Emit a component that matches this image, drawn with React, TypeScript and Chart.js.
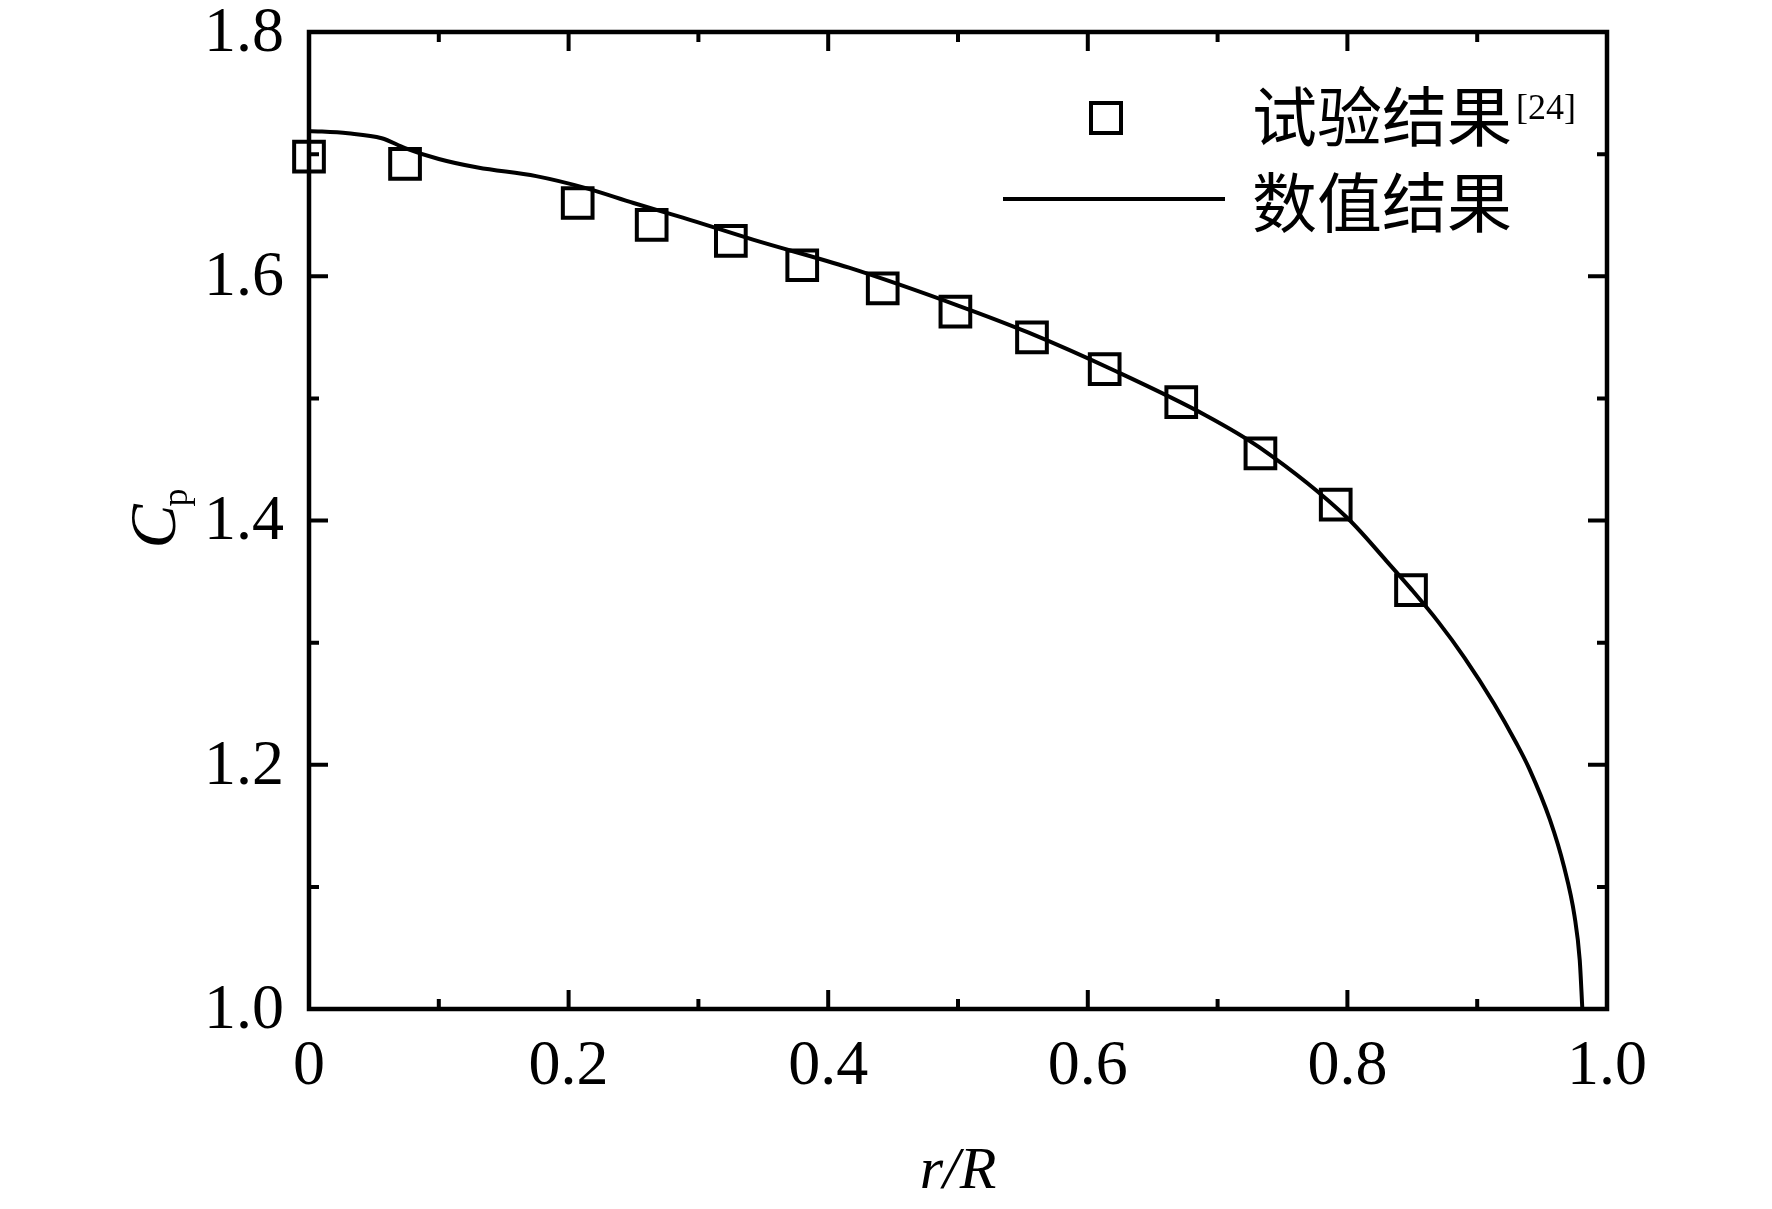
import React, { useEffect, useRef } from 'react';
import { Chart, registerables } from 'chart.js';

Chart.register(...registerables);

// experiment points (squares)
const expR = [0.0, 0.074, 0.207, 0.264, 0.325, 0.38, 0.442, 0.498, 0.557, 0.613, 0.672, 0.733, 0.791, 0.849];
const expCp = [1.698, 1.692, 1.66, 1.642, 1.629, 1.609, 1.59, 1.571, 1.55, 1.524, 1.497, 1.455, 1.413, 1.343];

// numerical curve
const numR = [0, 0.03, 0.056, 0.074, 0.1, 0.13, 0.175, 0.214, 0.25, 0.288, 0.342, 0.416, 0.5, 0.554, 0.62, 0.691, 0.732, 0.8, 0.83, 0.849, 0.87, 0.89, 0.913, 0.93, 0.94, 0.956, 0.967, 0.975, 0.979, 0.981];
const numCp = [1.719, 1.717, 1.713, 1.705, 1.696, 1.689, 1.682, 1.672, 1.66, 1.648, 1.63, 1.607, 1.576, 1.554, 1.523, 1.486, 1.46, 1.402, 1.367, 1.344, 1.317, 1.288, 1.25, 1.218, 1.197, 1.155, 1.116, 1.076, 1.04, 1.0];

const xMajor = [0, 0.2, 0.4, 0.6, 0.8, 1.0];
const xMinor = [0.1, 0.3, 0.5, 0.7, 0.9];
const xLabels = ['0', '0.2', '0.4', '0.6', '0.8', '1.0'];
const yMajor = [1.0, 1.2, 1.4, 1.6, 1.8];
const yMinor = [1.1, 1.3, 1.5, 1.7];
const yLabels = ['1.0', '1.2', '1.4', '1.6', '1.8'];

const expLabel = '试验结果';
const expRef = '[24]';
const numLabel = '数值结果';

const SERIF = '"Liberation Serif", "Times New Roman", serif';
const CJK = '"Noto Sans CJK SC", sans-serif';

const framePlugin = {
  id: 'frame',
  afterDraw(chart: any) {
    const { ctx, chartArea } = chart;
    const { left, right, top, bottom } = chartArea;
    const xs = chart.scales.x;
    const ys = chart.scales.y;
    ctx.save();
    ctx.strokeStyle = '#000';
    ctx.fillStyle = '#000';
    ctx.lineWidth = 4.5;
    ctx.strokeRect(left, top, right - left, bottom - top);

    // inward ticks on all four sides
    ctx.lineWidth = 4;
    ctx.beginPath();
    const tickX = (v: number, len: number) => {
      const px = xs.getPixelForValue(v);
      ctx.moveTo(px, bottom);
      ctx.lineTo(px, bottom - len);
      ctx.moveTo(px, top);
      ctx.lineTo(px, top + len);
    };
    const tickY = (v: number, len: number) => {
      const py = ys.getPixelForValue(v);
      ctx.moveTo(left, py);
      ctx.lineTo(left + len, py);
      ctx.moveTo(right, py);
      ctx.lineTo(right - len, py);
    };
    xMajor.forEach((v) => tickX(v, 19));
    xMinor.forEach((v) => tickX(v, 10));
    yMajor.forEach((v) => tickY(v, 19));
    yMinor.forEach((v) => tickY(v, 10));
    ctx.stroke();

    // tick labels
    ctx.font = `64px ${SERIF}`;
    ctx.textBaseline = 'middle';
    ctx.textAlign = 'center';
    xMajor.forEach((v, i) => {
      ctx.fillText(xLabels[i], xs.getPixelForValue(v), bottom + 58);
    });
    ctx.textAlign = 'right';
    yMajor.forEach((v, i) => {
      ctx.fillText(yLabels[i], left - 25, ys.getPixelForValue(v) + 2);
    });

    // x title
    ctx.font = `italic 60px ${SERIF}`;
    ctx.textAlign = 'center';
    ctx.textBaseline = 'alphabetic';
    ctx.fillText('r/R', (left + right) / 2, bottom + 179);

    // y title, rotated
    ctx.save();
    ctx.translate(left - 134, (top + bottom) / 2 + 28);
    ctx.rotate(-Math.PI / 2);
    ctx.textAlign = 'left';
    ctx.font = `italic 66px ${SERIF}`;
    ctx.fillText('C', 0, 0);
    const cw = ctx.measureText('C').width;
    ctx.font = `36px ${SERIF}`;
    ctx.fillText('p', cw - 2, 12);
    ctx.restore();

    // legend
    const lx = 1106;
    ctx.lineWidth = 4;
    ctx.strokeRect(lx - 15, 118 - 15, 30, 30);
    ctx.beginPath();
    ctx.moveTo(1003, 199);
    ctx.lineTo(1225, 199);
    ctx.stroke();

    ctx.textAlign = 'left';
    ctx.textBaseline = 'middle';
    ctx.font = `65px ${CJK}`;
    ctx.fillText(expLabel, 1252, 116);
    const ew = ctx.measureText(expLabel).width;
    ctx.fillText(numLabel, 1252, 202);
    ctx.font = `36px ${SERIF}`;
    ctx.textBaseline = 'alphabetic';
    ctx.fillText(expRef, 1252 + ew + 4, 119);
    ctx.restore();
  },
};

const App = () => {
  const canvasRef = useRef<HTMLCanvasElement>(null);
  const chartRef = useRef<Chart | null>(null);

  useEffect(() => {
    document.body.style.margin = '0';
    document.body.style.background = '#fff';
    if (!canvasRef.current) return;
    if (chartRef.current) chartRef.current.destroy();

    chartRef.current = new Chart(canvasRef.current, {
      type: 'scatter',
      data: {
        datasets: [
          {
            label: numLabel,
            data: numR.map((r, i) => ({ x: r, y: numCp[i] })),
            showLine: true,
            pointRadius: 0,
            borderColor: '#000',
            borderWidth: 4,
            cubicInterpolationMode: 'monotone',
          },
          {
            label: expLabel,
            data: expR.map((r, i) => ({ x: r, y: expCp[i] })),
            pointStyle: 'rect',
            pointRadius: 21,
            borderColor: '#000',
            borderWidth: 4,
            backgroundColor: 'rgba(0,0,0,0)',
            clip: false,
          },
        ],
      },
      options: {
        animation: false,
        responsive: true,
        maintainAspectRatio: false,
        devicePixelRatio: 1,
        events: [],
        layout: { padding: { left: 309, right: 165, top: 32, bottom: 200 } },
        plugins: { legend: { display: false }, tooltip: { enabled: false } },
        scales: {
          x: { type: 'linear', min: 0, max: 1, display: false },
          y: { type: 'linear', min: 1.0, max: 1.8, display: false },
        },
      },
      plugins: [framePlugin],
    } as any);

    return () => {
      if (chartRef.current) {
        chartRef.current.destroy();
        chartRef.current = null;
      }
    };
  }, []);

  return (
    <div style={{ width: 1772, height: 1209, background: '#fff' }}>
      <canvas ref={canvasRef} />
    </div>
  );
};

export default App;
